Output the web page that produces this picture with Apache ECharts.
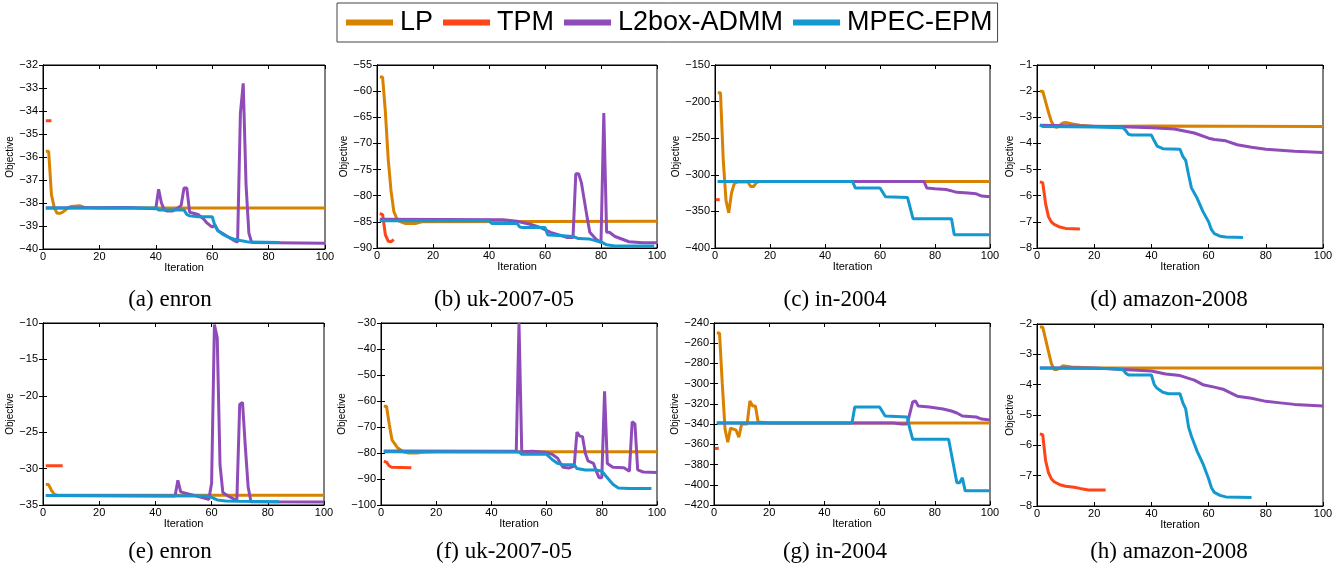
<!DOCTYPE html>
<html>
<head>
<meta charset="utf-8">
<script src="https://cdn.jsdelivr.net/npm/echarts@6/dist/echarts.min.js"></script>
<style>html,body{margin:0;padding:0;background:#fff;}#c{width:1343px;height:568px;}</style>
</head>
<body>
<div id="c"></div>
<script>
// ---------- data (iteration, objective) ----------
const seriesNames = ['LP', 'TPM', 'L2box-ADMM', 'MPEC-EPM'];
const captions = ['(a) enron', '(b) uk-2007-05', '(c) in-2004', '(d) amazon-2008',
                  '(e) enron', '(f) uk-2007-05', '(g) in-2004', '(h) amazon-2008'];
const xTicks = [0, 100, 20];
const yMin = [-40, -90, -400, -8, -35, -100, -420, -8];
const yMax = [-32, -55, -150, -1, -10, -30, -240, -2];
const yStep = [1, 5, 50, 1, 5, 10, 20, 1];

const a_LP = [[1,-35.75],[2,-35.75],[3,-37.65],[4,-38.2],[5,-38.45],[6,-38.45],[7,-38.4],[8,-38.3],[9,-38.2],[10,-38.15],[13,-38.12],[15,-38.2],[20,-38.22],[100,-38.22]];
const a_TPM = [[1,-34.42],[2,-34.42],[3,-34.42]];
const a_L2 = [[1,-38.22],[30,-38.2],[40,-38.25],[41,-37.4],[42,-38.0],[43,-38.3],[44,-38.35],[46,-38.35],[48,-38.2],[49,-38.1],[50,-37.35],[51,-37.35],[52,-38.4],[55,-38.5],[57,-38.7],[58,-38.85],[60,-39.05],[61,-38.95],[62,-39.2],[64,-39.35],[66,-39.5],[68,-39.65],[69,-39.7],[70,-34.1],[71,-32.8],[72,-37.2],[73,-39.3],[74,-39.72],[100,-39.75]];
const a_MP = [[1,-38.22],[40,-38.22],[41,-38.3],[50,-38.3],[51,-38.5],[52,-38.56],[55,-38.6],[60,-38.6],[61,-39.0],[62,-39.2],[64,-39.38],[66,-39.5],[68,-39.58],[70,-39.63],[73,-39.7],[84,-39.72]];

const b_LP = [[1,-57.3],[2,-57.3],[3,-64],[4,-73],[5,-79],[6,-83],[7,-84.3],[8,-84.9],[10,-85.3],[14,-85.3],[16,-85.0],[100,-84.9]];
const b_TPM = [[1,-83.4],[2,-83.6],[3,-87.5],[4,-88.7],[5,-88.8],[6,-88.4]];
const b_L2 = [[1,-84.5],[45,-84.6],[50,-84.9],[55,-85.5],[58,-86],[60,-86.5],[62,-87],[65,-87.5],[68,-88],[70,-88],[71,-75.8],[72,-75.8],[73,-77.5],[75,-84],[76,-87],[78,-88.2],[80,-89],[81,-64.2],[82,-87],[83,-87],[85,-87.8],[90,-88.8],[95,-89],[100,-89]];
const b_MP = [[1,-84.8],[40,-84.8],[41,-85.3],[50,-85.3],[51,-86],[52,-86.1],[60,-86.1],[61,-87.5],[65,-87.6],[70,-87.8],[72,-88.2],[76,-88.3],[78,-88.6],[80,-88.8],[82,-89.4],[85,-89.6],[99,-89.6]];

const c_LP = [[1,-188],[2,-188],[3,-280],[4,-335],[5,-352],[6,-325],[7,-312],[8,-310],[12,-310],[13,-316],[14,-316],[15,-311],[16,-309],[100,-309]];
const c_TPM = [[1,-334]];
const c_L2 = [[1,-309],[76,-309],[77,-318],[80,-319],[84,-320],[86,-322],[88,-324],[92,-325],[95,-326],[97,-329],[100,-330]];
const c_MP = [[1,-309],[50,-309],[51,-318],[60,-318],[62,-330],[70,-331],[72,-360],[86,-360],[87,-382],[100,-382]];

const d_LP = [[1,-2.0],[2,-2.0],[3,-2.4],[4,-2.8],[5,-3.15],[6,-3.35],[7,-3.38],[8,-3.3],[9,-3.22],[10,-3.2],[12,-3.25],[15,-3.3],[20,-3.35],[40,-3.33],[100,-3.35]];
const d_TPM = [[1,-5.47],[2,-5.5],[3,-6.3],[4,-6.8],[5,-7.0],[6,-7.1],[8,-7.2],[10,-7.25],[15,-7.27]];
const d_L2 = [[1,-3.3],[30,-3.36],[40,-3.4],[48,-3.45],[55,-3.6],[60,-3.8],[62,-3.85],[66,-3.9],[70,-4.05],[75,-4.15],[80,-4.22],[90,-4.3],[100,-4.35]];
const d_MP = [[1,-3.3],[2,-3.35],[20,-3.37],[30,-3.4],[31,-3.5],[32,-3.65],[33,-3.68],[40,-3.68],[41,-3.9],[42,-4.1],[44,-4.2],[50,-4.22],[51,-4.5],[52,-4.65],[53,-5.2],[54,-5.7],[56,-6.1],[58,-6.6],[60,-7.0],[61,-7.3],[62,-7.45],[64,-7.55],[66,-7.58],[72,-7.6]];

const e_LP = [[1,-32.2],[2,-32.2],[3,-33.0],[4,-33.5],[5,-33.65],[100,-33.65]];
const e_TPM = [[1,-29.6],[2,-29.6],[3,-29.6],[4,-29.6],[5,-29.6],[6,-29.6],[7,-29.6]];
const e_L2 = [[1,-33.7],[47,-33.75],[48,-31.6],[49,-33.2],[52,-33.5],[55,-33.8],[58,-34.1],[59,-34.25],[60,-32],[61,-10.2],[62,-12],[63,-29.5],[64,-33.3],[66,-33.8],[68,-34.2],[69,-34.2],[70,-21.2],[71,-20.9],[72,-27],[73,-32.5],[74,-34.55],[100,-34.6]];
const e_MP = [[1,-33.7],[58,-33.75],[60,-33.95],[62,-34.3],[65,-34.45],[70,-34.5],[84,-34.55]];

const f_LP = [[1,-62],[2,-62],[3,-69],[4,-75],[5,-76.5],[6,-78],[8,-79.5],[10,-80],[13,-80],[15,-79.7],[20,-79.5],[100,-79.5]];
const f_TPM = [[1,-83.2],[2,-83.5],[3,-85],[4,-85.5],[11,-85.7]];
const f_L2 = [[1,-79.2],[48,-79.3],[49,-79.5],[50,-30],[51,-79.5],[55,-79.3],[60,-79.8],[62,-80.5],[64,-82],[65,-84],[66,-85.5],[68,-85.8],[70,-85],[71,-72],[72,-73.5],[73,-73.7],[74,-80],[75,-83],[77,-84],[78,-87],[79,-89.5],[80,-89.5],[81,-56.3],[82,-84],[84,-85.5],[88,-85.7],[90,-87],[91,-68],[92,-68.8],[93,-86.5],[95,-87.3],[100,-87.5]];
const f_MP = [[1,-79.5],[50,-79.6],[51,-80.5],[60,-80.5],[62,-82.5],[64,-84],[66,-84.5],[70,-84.5],[71,-86],[74,-86.5],[78,-86.5],[80,-87],[82,-89.5],[84,-92],[86,-93.5],[90,-93.7],[98,-93.7]];

const g_LP = [[1,-250],[2,-250],[3,-300],[4,-345],[5,-358],[6,-344],[8,-346],[9,-353],[10,-340],[12,-340],[13,-317],[14,-322],[15,-322],[16,-338],[20,-339],[100,-339]];
const g_TPM = [[1,-364]];
const g_L2 = [[1,-339],[65,-339],[68,-340],[70,-340],[72,-318],[73,-317],[74,-322],[78,-323],[83,-325],[86,-327],[88,-329],[90,-332],[95,-333],[97,-335],[100,-336]];
const g_MP = [[1,-339],[50,-339],[51,-323],[60,-323],[62,-332],[70,-333],[71,-345],[72,-355],[85,-355],[88,-398],[89,-398],[90,-393],[91,-406],[100,-406]];

const h_LP = [[1,-2.1],[2,-2.1],[3,-2.5],[4,-2.9],[5,-3.3],[6,-3.5],[7,-3.5],[8,-3.45],[9,-3.38],[12,-3.42],[20,-3.45],[100,-3.45]];
const h_TPM = [[1,-5.62],[2,-5.65],[3,-6.5],[4,-6.9],[5,-7.1],[6,-7.2],[8,-7.3],[10,-7.35],[13,-7.38],[15,-7.42],[18,-7.47],[24,-7.47]];
const h_L2 = [[1,-3.45],[20,-3.45],[30,-3.5],[40,-3.55],[45,-3.65],[50,-3.7],[55,-3.85],[58,-4.0],[62,-4.08],[65,-4.15],[70,-4.38],[75,-4.45],[80,-4.55],[85,-4.6],[90,-4.65],[100,-4.7]];
const h_MP = [[1,-3.45],[25,-3.47],[30,-3.5],[31,-3.62],[32,-3.68],[40,-3.68],[41,-4.0],[42,-4.12],[44,-4.25],[46,-4.3],[50,-4.3],[51,-4.6],[52,-4.8],[53,-5.4],[54,-5.7],[56,-6.2],[58,-6.6],[60,-7.1],[61,-7.4],[62,-7.55],[64,-7.65],[66,-7.7],[75,-7.72]];

const panelData = [
  [a_LP, a_TPM, a_L2, a_MP], [b_LP, b_TPM, b_L2, b_MP], [c_LP, c_TPM, c_L2, c_MP], [d_LP, d_TPM, d_L2, d_MP],
  [e_LP, e_TPM, e_L2, e_MP], [f_LP, f_TPM, f_L2, f_MP], [g_LP, g_TPM, g_L2, g_MP], [h_LP, h_TPM, h_L2, h_MP]
];

// ---------- layout & style ----------
const colors = ['#D98200', '#FF4517', '#8F4CB8', '#1399CF'];
const gridBox = [
  [43, 65, 282, 184], [377, 65, 280, 183], [715, 65, 275, 183], [1037, 65, 286, 183],
  [43, 323, 281, 182], [381, 323, 276, 182], [714, 323, 276, 182], [1037, 324, 286, 182]
];
const captionPos = [[170, 300], [504, 300], [835, 300], [1169, 300], [170, 552], [504, 552], [835, 552], [1169, 552]];

const FONT = 'Liberation Sans';
const minus = v => String(v).replace('-', '\u2212');

const grids = [], xAxes = [], yAxes = [], series = [], graphics = [];
gridBox.forEach((g, i) => {
  grids.push({ left: g[0], top: g[1], width: g[2], height: g[3], show: true, borderColor: '#000', borderWidth: 1, backgroundColor: '#fff' });
  const tick = { show: true, inside: true, length: 4, lineStyle: { color: '#000', width: 1 } };
  const line = { show: true, lineStyle: { color: '#000', width: 1 } };
  xAxes.push({
    gridIndex: i, type: 'value', min: xTicks[0], max: xTicks[1], interval: xTicks[2], position: 'bottom',
    axisLine: line, axisTick: tick, splitLine: { show: false },
    axisLabel: { color: '#000', fontFamily: FONT, fontSize: 11, margin: 2 },
    name: 'Iteration', nameLocation: 'middle', nameGap: 8,
    nameTextStyle: { color: '#000', fontFamily: FONT, fontSize: 11 }
  });
  xAxes.push({
    gridIndex: i, type: 'value', min: xTicks[0], max: xTicks[1], interval: xTicks[2], position: 'top',
    axisLine: line, axisTick: tick, splitLine: { show: false }, axisLabel: { show: false }
  });
  yAxes.push({
    gridIndex: i, type: 'value', min: yMin[i], max: yMax[i], interval: yStep[i], position: 'left',
    axisLine: line, axisTick: tick, splitLine: { show: false },
    axisLabel: { color: '#000', fontFamily: FONT, fontSize: 11, margin: 5, formatter: minus, showMinLabel: true, showMaxLabel: true },
    name: 'Objective', nameLocation: 'middle', nameGap: 21,
    nameTextStyle: { color: '#000', fontFamily: FONT, fontSize: 10 }
  });
  yAxes.push({
    gridIndex: i, type: 'value', min: yMin[i], max: yMax[i], interval: yStep[i], position: 'right',
    axisLine: line, axisTick: tick, splitLine: { show: false }, axisLabel: { show: false }
  });
  panelData[i].forEach((d, k) => {
    const single = d.length === 1;
    series.push({
      type: 'line', name: seriesNames[k], xAxisIndex: 2 * i, yAxisIndex: 2 * i,
      data: d, showSymbol: single, symbol: single ? 'rect' : 'none', symbolSize: [4, 3],
      itemStyle: { color: colors[k] },
      lineStyle: { color: colors[k], width: 3 },
      clip: true, animation: false, z: 2 + k
    });
  });
  graphics.push({
    type: 'text', x: captionPos[i][0], y: captionPos[i][1],
    style: { text: captions[i], font: '23px "Liberation Serif"', fill: '#000', textAlign: 'center', textVerticalAlign: 'middle' }
  });
});

const chart = echarts.init(document.getElementById('c'), null, { renderer: 'canvas' });
chart.setOption({
  backgroundColor: '#fff',
  animation: false,
  legend: {
    data: seriesNames, left: 337, top: 3, orient: 'horizontal',
    icon: 'rect', itemWidth: 47, itemHeight: 6, itemGap: 10,
    padding: [6, 5, 6, 9],
    borderColor: '#444', borderWidth: 1, backgroundColor: '#fff',
    textStyle: { fontFamily: FONT, fontSize: 27, color: '#000', padding: [0, 0, 0, 2] }
  },
  grid: grids, xAxis: xAxes, yAxis: yAxes, series: series, graphic: graphics
});
</script>
</body>
</html>
